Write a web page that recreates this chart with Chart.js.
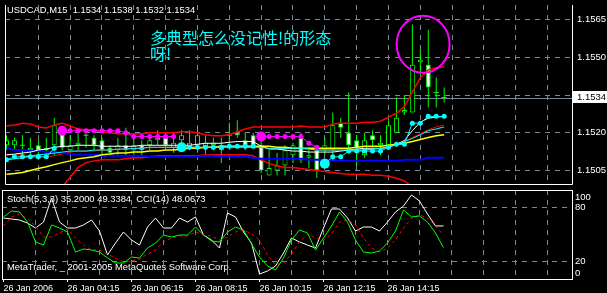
<!DOCTYPE html>
<html>
<head>
<meta charset="utf-8">
<title>USDCAD,M15</title>
<script src="https://cdn.jsdelivr.net/npm/chart.js@4.4.1/dist/chart.umd.min.js"></script>
<style>
  html, body { margin: 0; padding: 0; background: #000; }
  #wrap { position: relative; width: 607px; height: 293px; overflow: hidden; background: #000; }
  canvas { position: absolute; left: 0; }
  #main { top: 0; }
  #sub { top: 188px; }
</style>
</head>
<body>
<div id="wrap">
  <canvas id="main" width="607" height="189"></canvas>
  <canvas id="sub" width="607" height="105"></canvas>
</div>
<script>
// ---- candles, 15 min bars from 26 Jan 2006 02:15 ----
const opens = [1.1515,1.1515,1.1515,1.1513,1.1515,1.1514,1.1515,1.1520,1.1513,1.1515,
  1.1519,1.1518,1.1517,1.1514,1.1513,1.1515,1.1513,1.1515,1.1515,1.1517,
  1.1518,1.1514,1.1517,1.1514,1.1515,1.1514,1.1515,1.1513,1.1519,1.1520,
  1.1517,1.1519,1.1515,1.1503,1.1505,1.1507,1.1511,1.1518,1.1510,1.1513,
  1.1513,1.1513,1.1524,1.1520,1.1517,1.1511,1.1519,1.1515,1.1515,1.1520,
  1.1528,1.1528,1.1548,1.1547,1.1536,1.1534];
const highs = [1.1519,1.1518,1.1519,1.1518,1.1517,1.1518,1.1526,1.1522,1.1519,1.1520,
  1.1520,1.1519,1.1518,1.1515,1.1518,1.1522,1.1518,1.1517,1.1518,1.1521,
  1.1520,1.1520,1.1521,1.1521,1.1522,1.1519,1.1518,1.1518,1.1524,1.1525,
  1.1520,1.1520,1.1517,1.1513,1.1512,1.1515,1.1516,1.1520,1.1514,1.1515,
  1.1518,1.1528,1.1526,1.1536,1.1519,1.1520,1.1521,1.1519,1.1525,1.1534,
  1.1535,1.1563,1.1553,1.1561,1.1542,1.1538];
const lows = [1.1513,1.1513,1.1511,1.1510,1.1511,1.1511,1.1511,1.1513,1.1511,1.1513,
  1.1514,1.1513,1.1511,1.1511,1.1511,1.1511,1.1511,1.1511,1.1513,1.1515,
  1.1514,1.1512,1.1513,1.1513,1.1512,1.1511,1.1513,1.1508,1.1515,1.1518,
  1.1513,1.1514,1.1504,1.1503,1.1503,1.1503,1.1508,1.1508,1.1506,1.1502,
  1.1511,1.1509,1.1518,1.1513,1.1507,1.1510,1.1514,1.1511,1.1514,1.1520,
  1.1527,1.1528,1.1543,1.1530,1.1530,1.1532];
const closes = [1.1517,1.1517,1.1515,1.1514,1.1513,1.1513,1.1523,1.1514,1.1515,1.1516,
  1.1519,1.1515,1.1513,1.1512,1.1515,1.1513,1.1515,1.1513,1.1517,1.1518,
  1.1515,1.1516,1.1519,1.1516,1.1519,1.1516,1.1516,1.1515,1.1519,1.1519,
  1.1514,1.1515,1.1505,1.1506,1.1507,1.1513,1.1515,1.1509,1.1511,1.1505,
  1.1515,1.1523,1.1522,1.1515,1.1514,1.1517,1.1517,1.1516,1.1523,1.1526,
  1.1529,1.1547,1.1549,1.1538,1.1536,1.1534];

// ---- main window indicators ----
const bbUpper = [1.15227,1.15231,1.15238,1.15235,1.15223,1.15219,1.15231,1.15238,1.15227,1.15215,
  1.15212,1.15212,1.15204,1.15200,1.15196,1.15196,1.15196,1.15196,1.15200,1.15200,
  1.15200,1.15200,1.15204,1.15204,1.15200,1.15192,1.15188,1.15188,1.15192,1.15204,
  1.15215,1.15223,1.15223,1.15223,1.15223,1.15223,1.15223,1.15227,1.15223,1.15223,
  1.15223,1.15235,1.15238,1.15238,1.15238,1.15242,1.15242,1.15246,1.15262,1.15277,
  1.15304,1.15362,1.15419,1.15450,1.15458,1.15462];
const bbMiddle = [1.15112,1.15112,1.15112,1.15108,1.15108,1.15104,1.15108,1.15115,1.15123,1.15127,
  1.15127,1.15127,1.15131,1.15131,1.15135,1.15135,1.15138,1.15138,1.15142,1.15142,
  1.15142,1.15142,1.15142,1.15142,1.15142,1.15142,1.15142,1.15142,1.15142,1.15142,
  1.15142,1.15142,1.15142,1.15138,1.15138,1.15138,1.15138,1.15138,1.15135,1.15131,
  1.15131,1.15131,1.15131,1.15131,1.15131,1.15131,1.15135,1.15138,1.15142,1.15154,
  1.15165,1.15181,1.15196,1.15212,1.15223,1.15231];
const bbLower = [1.14962,1.14962,1.14965,1.14965,1.14965,1.14969,1.14973,1.14985,1.15023,1.15062,
  1.15081,1.15088,1.15092,1.15092,1.15092,1.15096,1.15100,1.15100,1.15104,1.15108,
  1.15108,1.15108,1.15108,1.15108,1.15108,1.15112,1.15112,1.15112,1.15112,1.15112,
  1.15112,1.15108,1.15092,1.15077,1.15069,1.15062,1.15062,1.15058,1.15054,1.15050,
  1.15046,1.15042,1.15038,1.15035,1.15035,1.15035,1.15031,1.15031,1.15027,1.15019,
  1.15008,1.14985,1.14962,1.14946,1.14935,1.14927];
const yellowMa = [1.15035,1.15038,1.15042,1.15050,1.15058,1.15065,1.15073,1.15081,1.15088,1.15096,
  1.15100,1.15104,1.15112,1.15115,1.15119,1.15119,1.15123,1.15123,1.15127,1.15127,
  1.15131,1.15131,1.15135,1.15138,1.15138,1.15142,1.15142,1.15146,1.15146,1.15146,
  1.15146,1.15146,1.15146,1.15146,1.15142,1.15142,1.15138,1.15138,1.15138,1.15138,
  1.15138,1.15138,1.15138,1.15138,1.15142,1.15146,1.15146,1.15146,1.15150,1.15154,
  1.15158,1.15165,1.15173,1.15181,1.15188,1.15192];
const blueMa = [1.15138,1.15131,1.15131,1.15127,1.15127,1.15123,1.15123,1.15119,1.15115,1.15112,
  1.15112,1.15112,1.15108,1.15108,1.15108,1.15108,1.15108,1.15108,1.15104,1.15104,
  1.15104,1.15104,1.15104,1.15104,1.15104,1.15108,1.15108,1.15104,1.15104,1.15104,
  1.15104,1.15100,1.15096,1.15096,1.15096,1.15096,1.15096,1.15096,1.15092,1.15092,
  1.15092,1.15088,1.15088,1.15088,1.15088,1.15088,1.15088,1.15088,1.15088,1.15088,
  1.15092,1.15092,1.15092,1.15100,1.15100,1.15100];
const whiteMa = [1.15112,1.15115,1.15119,1.15123,1.15131,1.15135,1.15142,1.15146,1.15146,1.15150,
  1.15150,1.15150,1.15146,1.15146,1.15146,1.15146,1.15146,1.15150,1.15150,1.15150,
  1.15150,1.15150,1.15150,1.15150,1.15154,1.15158,1.15158,1.15158,1.15162,1.15165,
  1.15165,1.15165,1.15146,1.15135,1.15135,1.15131,1.15127,1.15127,1.15123,1.15123,
  1.15123,1.15123,1.15127,1.15131,1.15135,1.15138,1.15138,1.15138,1.15142,1.15154,
  1.15169,1.15208,1.15242,1.15258,1.15262,1.15265];
const cyanMa = [1.15092,1.15096,1.15100,1.15108,1.15112,1.15115,1.15119,1.15123,1.15127,1.15127,
  1.15127,1.15131,1.15131,1.15131,1.15135,1.15135,1.15138,1.15138,1.15142,1.15142,
  1.15142,1.15142,1.15142,1.15142,1.15142,1.15142,1.15142,1.15142,1.15142,1.15142,
  1.15142,1.15142,1.15142,1.15138,1.15138,1.15138,1.15138,1.15138,1.15135,1.15131,
  1.15131,1.15131,1.15131,1.15131,1.15131,1.15131,1.15135,1.15138,1.15142,1.15154,
  1.15165,1.15177,1.15192,1.15208,1.15215,1.15223];
// trend stop dots: cyan while up, magenta while down
const trendUp = [1.15092,1.15104,1.15104,1.15104,1.15104,1.15104,1.15138,null,null,null,
  null,null,null,null,null,null,null,null,null,null,
  null,null,1.15142,1.15142,1.15142,1.15142,1.15142,1.15142,1.15146,1.15146,
  1.15146,1.15146,null,null,null,null,null,null,null,null,
  1.15077,1.15104,1.15104,1.15127,1.15127,1.15127,1.15127,1.15127,1.15142,1.15154,
  1.15154,1.15238,1.15238,1.15265,1.15265,1.15265];
const trendDown = [null,null,null,null,null,null,null,1.15208,1.15208,1.15208,
  1.15208,1.15208,1.15208,1.15208,1.15208,1.15200,1.15185,1.15185,1.15185,1.15185,
  1.15185,1.15185,null,null,null,null,null,null,null,null,
  null,null,1.15185,1.15185,1.15185,1.15185,1.15185,1.15185,1.15158,1.15142,
  null,null,null,null,null,null,null,null,null,null,
  null,null,null,null,null,null];
const upStarts = [22, 40];
const downStarts = [7, 32];

// ---- sub window: Stoch(5,3,3) and CCI(14) ----
const stochMain = [69.7,76.4,75.3,64.0,41.6,38.2,60.7,57.3,52.8,30.3,
  33.7,32.6,30.3,23.6,18.0,18.0,24.7,23.6,34.8,40.4,
  49.4,47.2,49.4,49.4,58.4,49.4,42.7,41.6,52.8,58.4,
  55.1,39.3,24.7,14.6,10.1,23.6,43.8,55.1,51.7,32.6,
  46.1,59.6,75.3,64.0,43.8,30.3,29.2,31.5,40.4,53.9,
  77.5,69.7,70.8,64.0,51.7,35.2];
const stochSignal = [59.6,69.7,73.0,67.4,59.6,47.2,47.2,51.7,56.2,46.1,
  38.2,32.6,32.6,28.1,23.6,19.1,20.2,22.5,28.1,32.6,
  41.6,46.1,48.3,48.3,52.8,49.4,48.3,43.8,47.2,52.8,
  55.1,50.6,43.8,27.0,15.7,18.0,28.1,41.6,50.6,46.1,
  43.8,50.6,64.0,66.3,60.7,46.1,34.8,30.3,34.8,43.8,
  57.3,68.5,71.9,68.5,59.6,49.3];
const cciLine = [68.5,67.4,66.3,62.9,57.3,64.0,91.0,64.0,57.3,57.3,
  60.7,66.3,53.9,27.0,40.4,52.8,43.8,38.2,58.4,68.5,
  57.3,57.3,68.5,64.0,69.7,49.4,43.8,34.8,74.2,69.7,
  52.8,40.4,5.6,9.0,14.6,29.2,46.1,41.6,38.2,34.8,
  57.3,78.7,78.7,68.5,53.9,58.4,58.4,53.9,64.0,75.3,
  82.0,94.4,87.6,73.0,59.6,59.6];

// ---- axes ----
const priceMin = 1.14996;
const priceMax = 1.15708;
const priceTicks = [1.1505, 1.1520, 1.1535, 1.1550, 1.1565];
const hiddenPriceTick = 1.1535;
const gridBars = [4, 8, 12, 16, 20, 24, 28, 32, 36, 40, 44, 48, 52, 56, 60, 64, 68];
const labelBars = [0, 8, 16, 24, 32, 40, 48];
const timeLabels = ['26 Jan 2006', '26 Jan 04:15', '26 Jan 06:15', '26 Jan 08:15',
  '26 Jan 10:15', '26 Jan 12:15', '26 Jan 14:15'];
const subTicks = [20, 80];

const mainTitle = 'USDCAD,M15  1.1534 1.1538 1.1532 1.1534';
const subTitle = 'Stoch(5,3,3) 35.2000 49.3384  CCI(14) 48.0673';
const copyright = 'MetaTrader, _ 2001-2005 MetaQuotes Software Corp.';
const noteLines = ['多典型怎么没记性!的形态', '呀!'];

const FONT = '"Liberation Sans", Arial, sans-serif';
const gridColor = '#778899';
const candleColor = '#00ff00';
const xMin = -0.1875;
const xMax = 71.0625;
const lastClose = closes[closes.length - 1];

Chart.defaults.font.family = FONT;
Chart.defaults.font.size = 9.5;
Chart.defaults.color = '#fff';

const pts = arr => arr.map((v, i) => ({ x: i, y: v }));
const idx = opens.map((_, i) => i);
const wickData = idx.map(i => ({ x: i, y: [lows[i], highs[i]] }));
const bodyIdx = idx.filter(i => opens[i] !== closes[i]);
const bodyData = bodyIdx.map(i => ({ x: i, y: [opens[i], closes[i]] }));
const bodyFill = bodyIdx.map(i => (closes[i] < opens[i] ? '#ffffff' : '#000000'));
const dojiData = idx.filter(i => opens[i] === closes[i]).map(i => ({ x: i, y: opens[i] }));

// keep label padding from shrinking the plot area
const noPad = s => { s.paddingTop = 0; s.paddingBottom = 0; s.paddingLeft = 0; s.paddingRight = 0; };

function line(label, values, color, width, order) {
  return {
    type: 'line', label, data: pts(values), borderColor: color, borderWidth: width,
    pointRadius: 0, tension: 0, order
  };
}

function dots(label, values, color, starts, order) {
  return {
    type: 'line', label, data: pts(values), borderColor: color, borderWidth: 1,
    pointBackgroundColor: color, pointBorderWidth: 0,
    pointRadius: c => (starts.includes(c.dataIndex) ? 5 : 2.5),
    tension: 0, order
  };
}

const mainDecor = {
  id: 'mainDecor',
  beforeDatasetsDraw(chart) {
    const { ctx, chartArea: a, scales: { y } } = chart;
    const py = Math.round(y.getPixelForValue(lastClose)) + 0.5;
    ctx.save();
    ctx.strokeStyle = gridColor;
    ctx.lineWidth = 1;
    ctx.beginPath();
    ctx.moveTo(a.left, py);
    ctx.lineTo(a.right, py);
    ctx.stroke();
    ctx.restore();
  },
  afterDraw(chart) {
    const { ctx, chartArea: a, scales: { x, y } } = chart;
    ctx.save();
    ctx.strokeStyle = '#fff';
    ctx.lineWidth = 1;
    ctx.beginPath();
    ctx.moveTo(a.left + 0.5, a.top);
    ctx.lineTo(a.left + 0.5, a.bottom + 0.5);
    ctx.lineTo(a.right + 0.5, a.bottom + 0.5);
    ctx.lineTo(a.right + 0.5, a.top);
    ctx.stroke();

    ctx.font = '9.4px ' + FONT;
    ctx.textAlign = 'left';
    ctx.textBaseline = 'middle';
    ctx.fillStyle = '#fff';
    ctx.fillText(mainTitle, 7, 10);

    // bid label
    const py = Math.round(y.getPixelForValue(lastClose));
    ctx.fillRect(a.right + 1, py - 7, chart.width - a.right - 1, 12);
    ctx.fillStyle = '#000';
    ctx.font = '9.5px ' + FONT;
    ctx.fillText(lastClose.toFixed(4), a.right + 5, py - 1);

    // text note and circle drawn on the chart
    ctx.fillStyle = '#00ffff';
    ctx.font = '16px "Noto Sans CJK SC"';
    ctx.fillText(noteLines[0], 150, 38);
    ctx.fillText(noteLines[1], 150, 54);

    ctx.strokeStyle = '#ff00ff';
    ctx.lineWidth = 2;
    ctx.beginPath();
    ctx.ellipse(x.getPixelForValue(52.35), y.getPixelForValue(1.15552), 26.5, 28.5, 0, 0, Math.PI * 2);
    ctx.stroke();
    ctx.restore();
  }
};

const subDecor = {
  id: 'subDecor',
  beforeDatasetsDraw(chart) {
    const { ctx } = chart;
    ctx.save();
    ctx.font = '9.4px ' + FONT;
    ctx.textAlign = 'left';
    ctx.textBaseline = 'middle';
    ctx.fillStyle = '#fff';
    ctx.fillText(subTitle, 7, 11);
    ctx.fillText(copyright, 7, 79);
    ctx.restore();
  },
  afterDraw(chart) {
    const { ctx, chartArea: a } = chart;
    ctx.save();
    ctx.strokeStyle = '#fff';
    ctx.lineWidth = 1;
    ctx.strokeRect(a.left + 0.5, a.top + 0.5, a.width, a.height);
    ctx.font = '9.5px ' + FONT;
    ctx.textAlign = 'left';
    ctx.textBaseline = 'middle';
    ctx.fillStyle = '#fff';
    ctx.fillText('100', a.right + 3, a.top + 7);
    ctx.fillText('0', a.right + 3, a.bottom - 6);
    ctx.restore();
  }
};

new Chart(document.getElementById('main'), {
  type: 'bar',
  data: {
    datasets: [
      dots('trend up', trendUp, '#00ffff', upStarts, 0),
      dots('trend down', trendDown, '#ff00ff', downStarts, 1),
      line('MA cyan', cyanMa, '#00ffff', 1, 2),
      line('MA white', whiteMa, '#ffffff', 1, 3),
      line('MA yellow', yellowMa, '#ffff00', 1.5, 4),
      line('MA blue', blueMa, '#0000ff', 2, 5),
      line('BB upper', bbUpper, '#ff0000', 1.5, 6),
      line('BB middle', bbMiddle, '#ff0000', 1, 6),
      line('BB lower', bbLower, '#ff0000', 1.5, 6),
      {
        type: 'line', label: 'doji', data: dojiData, showLine: false,
        pointStyle: 'line', pointRadius: 2.5, pointBorderColor: candleColor,
        pointBorderWidth: 1, order: 7
      },
      {
        label: 'body', data: bodyData, backgroundColor: bodyFill, borderColor: candleColor,
        borderWidth: 1, borderSkipped: false, barThickness: 5, grouped: false,
        inflateAmount: 0, order: 8
      },
      {
        label: 'wick', data: wickData, backgroundColor: candleColor, borderWidth: 0,
        barThickness: 1, grouped: false, inflateAmount: 0, order: 9
      }
    ]
  },
  options: {
    responsive: false,
    animation: false,
    events: [],
    layout: { padding: { left: 2, top: 2, right: 0, bottom: 2 } },
    plugins: { legend: { display: false }, tooltip: { enabled: false } },
    scales: {
      x: {
        type: 'linear', min: xMin, max: xMax, offset: false,
        afterBuildTicks: s => { s.ticks = gridBars.map(v => ({ value: v })); },
        afterFit: s => { s.height = 0; noPad(s); },
        ticks: { display: false },
        grid: { color: gridColor, drawTicks: false, offset: false },
        border: { display: false, dash: [5, 5] }
      },
      y: {
        position: 'right', min: priceMin, max: priceMax,
        afterBuildTicks: s => { s.ticks = priceTicks.map(v => ({ value: v })); },
        afterFit: s => { s.width = 35; noPad(s); },
        ticks: { color: '#fff', padding: 5, callback: v => (v === hiddenPriceTick ? '' : v.toFixed(4)) },
        grid: { color: gridColor, drawTicks: false },
        border: { display: false, dash: [5, 5] }
      }
    }
  },
  plugins: [mainDecor]
});

new Chart(document.getElementById('sub'), {
  type: 'line',
  data: {
    datasets: [
      line('CCI(14)', cciLine, '#ffffff', 1, 2),
      { ...line('Stoch signal', stochSignal, '#ff0000', 1, 1), borderDash: [3, 3] },
      line('Stoch main', stochMain, '#00ff00', 1, 0)
    ]
  },
  options: {
    responsive: false,
    animation: false,
    events: [],
    layout: { padding: { left: 2, top: 2, right: 0, bottom: 0 } },
    plugins: { legend: { display: false }, tooltip: { enabled: false } },
    scales: {
      x: {
        type: 'linear', min: xMin, max: xMax, offset: false,
        afterBuildTicks: s => { s.ticks = [0].concat(gridBars).map(v => ({ value: v })); },
        afterFit: s => { s.height = 14; noPad(s); },
        ticks: {
          color: '#fff', align: 'start', maxRotation: 0, autoSkip: false, padding: 1,
          font: { size: 9 },
          callback: v => { const k = labelBars.indexOf(v); return k < 0 ? '' : timeLabels[k]; }
        },
        grid: {
          color: c => (c.tick && c.tick.value === 0 ? 'rgba(0,0,0,0)' : gridColor),
          tickColor: c => (c.tick && labelBars.includes(c.tick.value) ? '#fff' : 'rgba(0,0,0,0)'),
          tickLength: 3, offset: false
        },
        border: { display: false, dash: [5, 5] }
      },
      y: {
        position: 'right', min: 0, max: 100,
        afterBuildTicks: s => { s.ticks = subTicks.map(v => ({ value: v })); },
        afterFit: s => { s.width = 35; noPad(s); },
        ticks: { color: '#fff', padding: 3 },
        grid: { color: gridColor, drawTicks: false },
        border: { display: false, dash: [5, 5] }
      }
    }
  },
  plugins: [subDecor]
});
</script>
</body>
</html>
